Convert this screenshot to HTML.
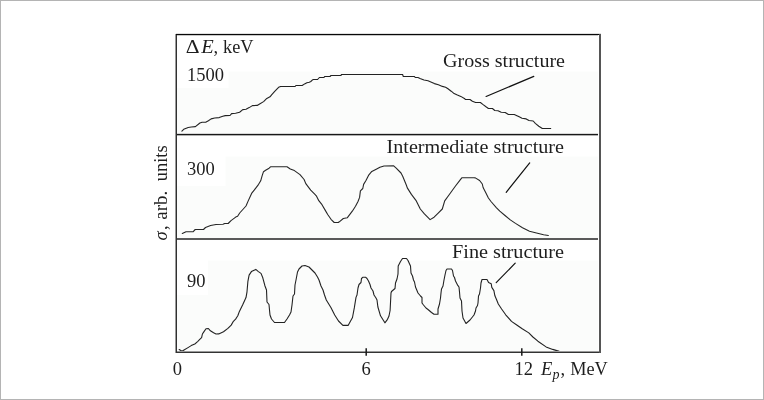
<!DOCTYPE html>
<html><head><meta charset="utf-8"><style>
html,body{margin:0;padding:0;background:#fff;}
body{width:764px;height:400px;overflow:hidden;}
svg{display:block;}
text{font-family:"Liberation Serif","DejaVu Serif",serif;fill:#1e1e1e;}
</style></head><body>
<svg width="764" height="400" viewBox="0 0 764 400">
<rect x="0.5" y="0.5" width="763" height="399" fill="#fff" stroke="#b4b4b4" stroke-width="1"/>
<rect x="177" y="35" width="422" height="316" fill="#fbfcfb"/>
<g fill="#fff">
<rect x="177" y="35" width="422" height="36.5"/>
<rect x="177" y="71" width="51.5" height="17"/>
<rect x="177" y="135" width="422" height="21.5"/>
<rect x="177" y="156" width="48.5" height="30"/>
<rect x="177" y="239" width="422" height="21.5"/>
<rect x="177" y="260" width="31" height="35"/>
</g>
<g fill="none" stroke-linejoin="round" stroke-linecap="round">
<polyline points="181.9,131.1 183.7,129.3 188.2,127.5 191.3,127 195.4,126.6 199.9,123 202.1,122.3 205.7,122.2 208.4,120.7 211.1,118.9 214.7,118 219.2,117.6 222.8,116.2 225.2,115.6 230,115.5 231.6,113.6 235.6,113.3 239.6,112.2 242.8,109.6 246,109.2 249.2,107.6 252.4,105.6 257.2,105.4 259.6,104 263.6,101.6 266.8,98.4 270,96.8 271.6,94.9 274.7,91.4 278.6,87.3 280.6,86.5 295.1,86.5 295.9,85.5 302.2,85.5 304.6,83.9 306.9,82.7 309.3,82.3 310.8,81.5 312.8,79.7 313.5,79.5 317.6,79.5 319.4,77.5 324,77.5 324.6,76.5 330,76.5 331,75.5 341,75.5 341.4,74.5 402.6,74.5 403.3,76.5 414.5,76.5 415.2,77.5 418,77.5 420,78.4 424,80 428,80.8 432,82.4 434.4,83.6 438.4,84.8 442.4,86.4 445.6,87.2 448,88.8 451.2,91.2 453.6,93.2 456.8,94.8 460.8,96.4 464.8,98.8 465.5,99.5 470,99.5 472.4,101.2 475.6,102.5 480.4,102.5 482.8,104.4 486,106.8 488.4,108.5 492.4,108.5 494.8,110.5 498,110.8 501.2,112.3 505.2,112.5 508.4,114.5 514.3,114.5 516.4,115.4 519.2,116.8 522,118.2 526.2,118.9 529,120.5 533.2,121 535.3,123.4 538.8,126.2 542.3,128.5 550.7,128.5" stroke="#222" stroke-width="1.1"/>
<polyline points="182.3,233.5 186,231.8 193,231.8 195.2,229.5 203.5,229.5 205.5,227.5 210.6,225.5 216,224.5 223,224.3 224.7,223.5 228.2,223.5 231,220.6 235.7,217.1 237.6,216.3 239.7,213 246,206 248.1,201.1 251.6,193.4 254.4,189.9 258.6,184.3 260.7,180.8 262.1,175.9 263.5,171.7 265.6,170.3 269.1,168.2 270.5,166.8 275.5,166.8 287,166.8 290.3,169 294.4,170.6 300,174.6 304.1,179.5 305.8,183.6 310.7,190.1 314.7,194.1 316.3,195.8 318.8,200.7 322,204.7 325.3,210.4 327.7,214.5 331,219.3 334.2,222.5 338.3,222.5 339.3,221.8 343.3,218.5 347.4,217.7 352.3,211.2 355.5,206.3 358,201.5 359.6,197.4 360.4,190.9 362.8,188.5 363.6,184.4 366.1,180.3 368.5,175.4 371.8,171.4 376.7,168.9 379.9,167.3 384,166 393.7,165.8 396.2,168.1 401,173 402.7,176.3 406.4,185.3 407.3,187.9 411.4,194.4 416.3,200.9 420.3,209 424.4,213.9 430.1,219.6 434.1,217.2 438.2,213.1 442.3,209 444.7,200.9 448.8,195.2 455.3,186.3 460.2,179.8 461.8,177.8 474,177.8 475.3,177.9 479.6,180.5 482.3,184 483.1,187.5 485.8,192.8 488.4,198 491,201.5 496.3,207.6 499.8,211.2 505,215.5 510.3,219.9 515.5,223.4 522.5,227.8 529.5,231.3 536.5,233 543.6,234.8 548.4,235.5" stroke="#262626" stroke-width="1.1"/>
<polyline points="179.2,349.6 182,351.2 184,350 188,347.6 191.2,345.6 194.8,344 197.6,341.6 200,339.2 201.6,337.6 202.4,334 204,331.6 206,328.8 208.4,328.5 210.4,330.8 213.6,332.8 216,334 218.7,333.9 223.5,331.7 227.9,328.4 231.2,325.1 233.4,321.3 235.6,319.1 237.8,315.8 239.4,311.4 242.7,304.8 246,297.6 247,291.8 247.9,281.3 249.1,275.1 251.4,271.6 255.8,269.4 258.4,271.6 261,273.4 262.8,277.8 265,286 266.5,290 267,302 269,304.5 269.5,310 270,315 271.5,319 274.5,322.5 284.5,322.5 287,319 289.5,315 291,312 292,305 293,296 294.5,294 295,285 296,280 297.5,272 299,269 302,266 305,265.5 309,267 312,270 315,273 317.5,277 319,280 321,286 323,290 324.5,295 326.3,300 330.9,307.5 334.7,315 338.5,321 342.9,325.4 348.1,325.4 352.5,317.5 354.3,307.9 356,297.4 357,295 358,288 359,284.5 361,282.5 361.5,278.5 363,277.2 365.5,277.2 367,278.5 368.5,281 370,284.5 371,288 373,291 374,295 376,298 377,300 377.9,307 380.5,315.8 384.9,322.8 387.5,319.3 389,316 390.1,310.5 391,293 391.5,291.5 395,288.5 395.5,283 397,279 398,274 398.2,266 400.5,261.5 402.5,258.5 406.5,258.5 408,260.5 410.5,266 411,273 412.5,276 413.5,280 414.5,282 415.5,287 418,293 420.5,296 422,297.5 422,303 423.5,305 426,308 428,309.5 431.5,312.5 434,314.3 438,314.3 438,309 439.5,304 440.5,298 441,293 441.5,289 443,286 444,280 445,275 446,270.5 447,269 451.5,269 452.5,270.5 453.5,276 454.5,277.5 455.5,281 457.8,285.4 459,287 459.5,292 460,298 461.5,301 462,311 463,318 466,323.5 470,320 474,315 475.5,311 476,308 477.5,305.5 478,303 478.5,296 479.5,294 480.5,288 481,283 482,279.5 487,279.5 488.6,282.5 491.2,283.7 491.8,287.4 493.9,290.6 494.9,295.8 496.5,299.5 498.3,304 501.6,309 505.7,314.8 511.5,321.4 516.4,324.7 522.2,328.8 528.8,332.9 532.9,337 537.9,341.2 546.1,346.9 552.7,349.4 559.3,351.4 562,351.6" stroke="#222" stroke-width="1.1"/>
<line x1="486.1" y1="96.5" x2="533.8" y2="76.4" stroke="#111" stroke-width="1.2"/>
<line x1="506.2" y1="192.3" x2="529.7" y2="162.9" stroke="#111" stroke-width="1.2"/>
<line x1="496.2" y1="282.6" x2="515.2" y2="263.2" stroke="#111" stroke-width="1.2"/>
</g>
<g shape-rendering="crispEdges">
<rect x="175" y="34" width="1" height="319" fill="#9a9a9a"/>
<rect x="176" y="34" width="1" height="319" fill="#303030"/>
<rect x="176" y="33" width="425" height="1" fill="#e0e0e0"/>
<rect x="176" y="34" width="425" height="1" fill="#080808"/>
<rect x="177" y="35" width="422" height="1" fill="#c8c8c8"/>
<rect x="177" y="134" width="422" height="1" fill="#181818"/>
<rect x="177" y="135" width="422" height="1" fill="#b0b0b0"/>
<rect x="177" y="133" width="422" height="1" fill="#d8d8d8"/>
<rect x="177" y="238" width="422" height="2" fill="#5a5a5a"/>
<rect x="177" y="351" width="422" height="1" fill="#9a9a9a"/>
<rect x="176" y="352" width="425" height="1" fill="#333"/>
<rect x="599" y="34" width="2" height="319" fill="#555"/>
<rect x="598" y="35" width="1" height="316" fill="#fff"/>
</g>
<g fill="none" stroke="#1a1a1a" stroke-width="1.5">
<line x1="366.2" y1="348.3" x2="366.2" y2="355.7"/>
<line x1="521.8" y1="348.3" x2="521.8" y2="355.7"/>
</g>
<text x="185.8" y="52.7" font-size="19.5" textLength="13.8" lengthAdjust="spacingAndGlyphs">Δ</text>
<text x="201.2" y="52.7" font-size="18.5" font-style="italic" textLength="12.5" lengthAdjust="spacingAndGlyphs">E</text>
<text x="213.5" y="52.7" font-size="18.5">,</text>
<text x="223" y="52.7" font-size="18.5" textLength="30.5" lengthAdjust="spacingAndGlyphs">keV</text>
<text x="187" y="81" font-size="18.5">1500</text>
<text x="443" y="66.7" font-size="18.5" textLength="122" lengthAdjust="spacingAndGlyphs">Gross structure</text>
<text x="187" y="175" font-size="18.5">300</text>
<text x="386.5" y="153" font-size="18.5" textLength="177.5" lengthAdjust="spacingAndGlyphs">Intermediate structure</text>
<text x="187" y="287" font-size="18.5">90</text>
<text x="452" y="258.4" font-size="18.5" textLength="112" lengthAdjust="spacingAndGlyphs">Fine structure</text>
<text x="177.4" y="375" font-size="18.5" text-anchor="middle">0</text>
<text x="366.2" y="375" font-size="18.5" text-anchor="middle">6</text>
<text x="514.6" y="375" font-size="18.5">12</text>
<text x="541" y="375" font-size="18.5" font-style="italic">E</text>
<text x="552.6" y="378.6" font-size="14" font-style="italic" textLength="7" lengthAdjust="spacingAndGlyphs">p</text>
<text x="560.5" y="375" font-size="18.5">,</text>
<text x="570.3" y="375" font-size="18.5" textLength="37.5" lengthAdjust="spacingAndGlyphs">MeV</text>
<g transform="translate(166.7,0) rotate(-90)">
<text x="-240.5" y="0" font-size="18.5" font-style="italic">σ</text>
<text x="-230" y="0" font-size="18.5">,</text>
<text x="-219.8" y="0" font-size="18.5" textLength="29" lengthAdjust="spacingAndGlyphs">arb.</text>
<text x="-181.3" y="0" font-size="18.5" textLength="36" lengthAdjust="spacingAndGlyphs">units</text>
</g>
</svg>
</body></html>
